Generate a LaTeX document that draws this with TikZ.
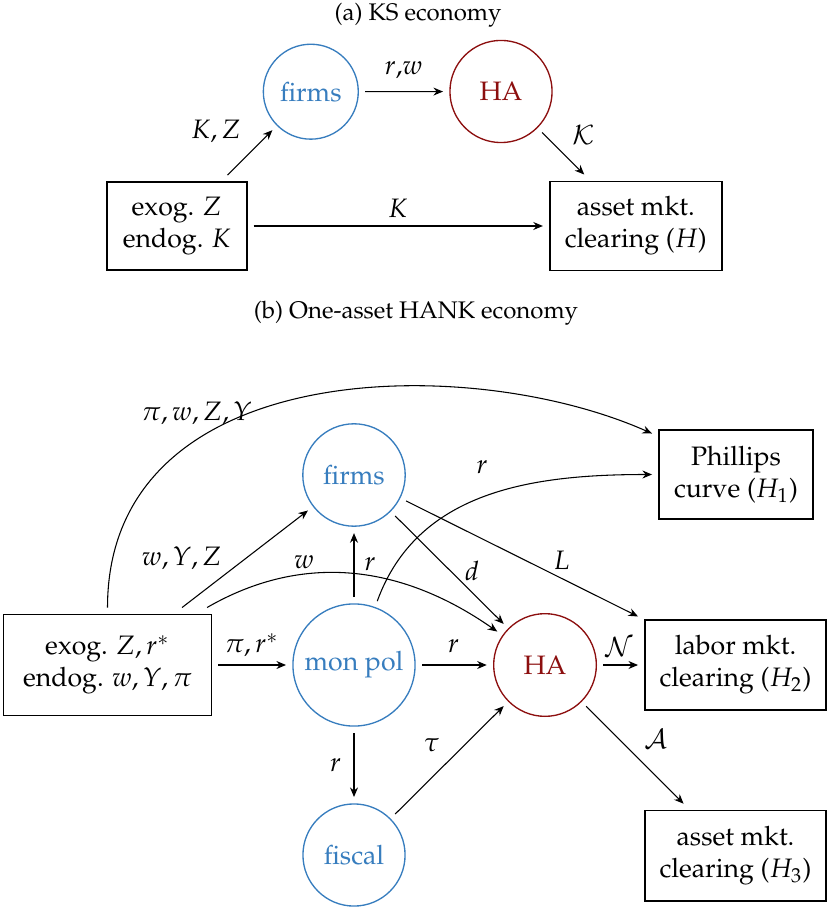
\documentclass[tikz,border=0pt]{standalone}
\usepackage[T1]{fontenc}
\usepackage{mathpazo}
\usetikzlibrary{arrows.meta}
\definecolor{cblue}{RGB}{55,125,190}
\definecolor{cred}{RGB}{140,15,15}
\begin{document}
\begin{tikzpicture}[x=0.375pt,y=0.375pt,
  circ/.style={circle,draw=cblue,text=cblue,line width=0.5pt,inner sep=0pt,outer sep=2.6pt},
  hacirc/.style={circ,draw=cred,text=cred},
  box/.style={draw,line width=0.6pt,align=center,inner sep=0pt,outer sep=2.6pt},
  arr/.style={-{Stealth[length=3.6pt,width=3pt,inset=1.2pt]},line width=0.4pt},
  lab/.style={inner sep=0pt},
  ttl/.style={inner sep=0pt,font=\small}]
\useasboundingbox (0,0) rectangle (827,-907);
% ---------- (a) ----------
\node[ttl] (ta) at (418,-15) {(a) KS economy};
\node[circ,minimum size=35.6pt] (fa) at (310.8,-91.7) {firms};
\node[hacirc,minimum size=38.3pt] (haa) at (501,-91.5) {HA};
\node[box,minimum width=52.5pt,minimum height=33pt] (exa) at (176.7,-226) {exog. $Z$\\endog. $K$};
\node[box,minimum width=64.5pt,minimum height=33.4pt] (asa) at (635.8,-226) {asset mkt.\\clearing ($H$)};
\draw[arr] (fa) -- (haa);
\draw[arr] (exa) -- (fa);
\draw[arr] (haa) -- (asa);
\draw[arr] (exa) -- (asa);
\node[lab] (la1) at (403.7,-70) {$r$,$w$};
\node[lab] (la2) at (216.2,-131.7) {$K, Z$};
\node[lab] (la3) at (583.4,-135) {$\mathcal{K}$};
\node[lab] (la4) at (398,-208.3) {$K$};
% ---------- (b) ----------
\node[ttl] (tb) at (416,-313.3) {(b) One-asset HANK economy};
\node[circ,minimum size=38.4pt] (fb) at (354,-475) {firms};
\node[circ,minimum size=45.8pt] (mp) at (354,-665) {mon pol};
\node[hacirc,minimum size=38.5pt] (hab) at (545,-665) {HA};
\node[circ,minimum size=38.3pt] (fi) at (354,-855) {fiscal};
\node[box,minimum width=78pt,minimum height=37.9pt] (exb) at (107.5,-665) {exog. $Z, r^*$\\endog. $w, Y, \pi$};
\node[box,minimum width=57.8pt,minimum height=33.4pt] (ph) at (736,-474.5) {Phillips\\curve ($H_1$)};
\node[box,minimum width=67.9pt,minimum height=33.8pt] (lm) at (735.5,-665) {labor mkt.\\clearing ($H_2$)};
\node[box,minimum width=67.9pt,minimum height=33.8pt] (asb) at (735.5,-855.7) {asset mkt.\\clearing ($H_3$)};
\draw[arr] (exb) -- (mp);
\draw[arr] (exb) -- (fb);
\draw[arr] (exb) to[out=30,in=145] (hab);
\draw[arr] (exb.north) .. controls (107.5,-357) and (468,-351.6) .. (ph.154);
\draw[arr] (mp) -- (fb);
\draw[arr] (mp) to[out=70,in=180] (ph);
\draw[arr] (mp) -- (hab);
\draw[arr] (fb) -- (hab);
\draw[arr] (fb) -- (lm);
\draw[arr] (hab) -- (lm);
\draw[arr] (mp) -- (fi);
\draw[arr] (fi) -- (hab);
\draw[arr] (hab) -- (asb);
\node[lab] (lb1) at (196.7,-413.3) {$\pi, w, Z, Y$};
\node[lab] (lb2) at (181.7,-558.3) {$w, Y, Z$};
\node[lab] (lb3) at (304,-561.7) {$w$};
\node[lab] (lb4) at (370,-564) {$r$};
\node[lab] (lb5) at (251.7,-645) {$\pi, r^*$};
\node[lab] (lb6) at (482,-466.7) {$r$};
\node[lab] (lb7) at (472,-570.7) {$d$};
\node[lab] (lb8) at (561.6,-560) {$L$};
\node[lab] (lb9) at (453.6,-646) {$r$};
\node[lab] (lb10) at (619,-646.7) {$\mathcal{N}$};
\node[lab] (lb11) at (335.5,-765) {$r$};
\node[lab] (lb12) at (431.8,-745) {$\tau$};
\node[lab] (lb13) at (655.6,-739.3) {$\mathcal{A}$};
\end{tikzpicture}
\end{document}
